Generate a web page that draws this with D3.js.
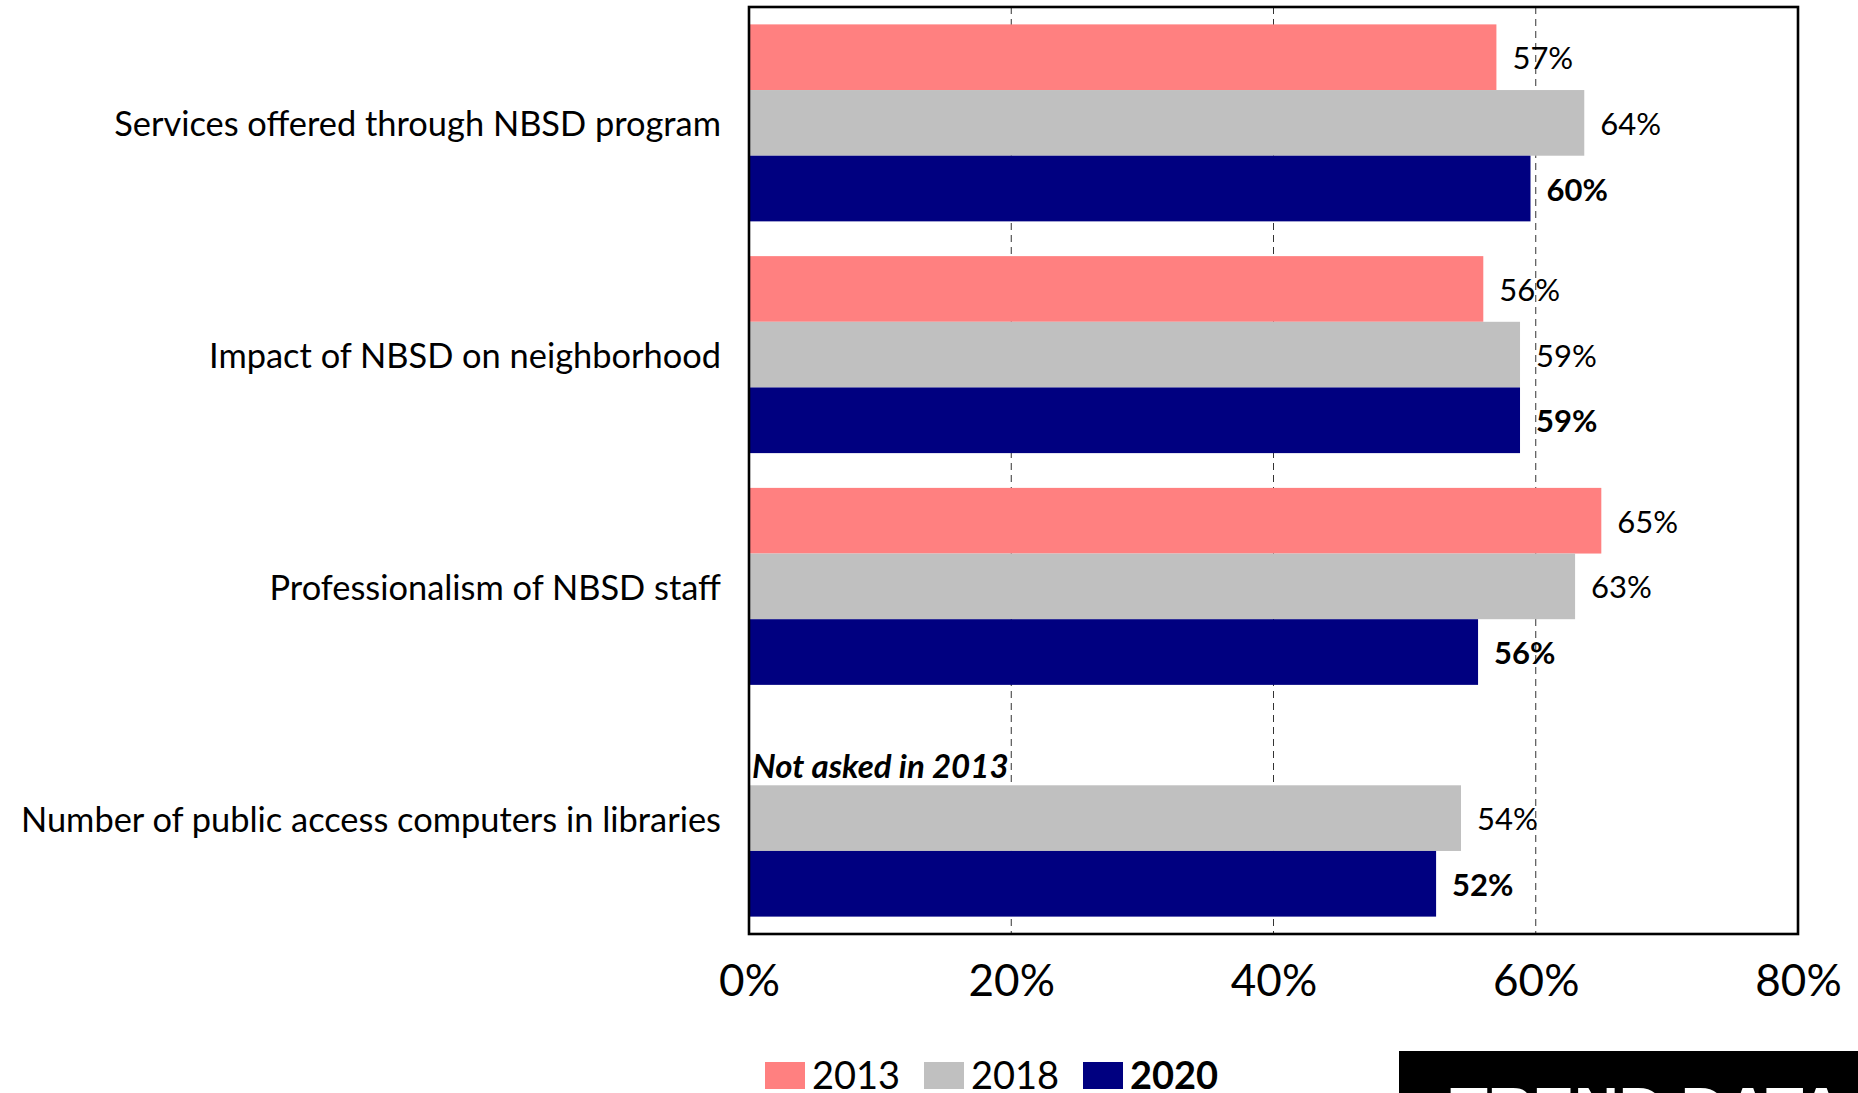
<!DOCTYPE html>
<html>
<head>
<meta charset="utf-8">
<script src="https://cdn.jsdelivr.net/npm/d3@7"></script>
<style>
  body { margin: 0; background: #fff; overflow: hidden; }
  svg { display: block; font-family: Lato, sans-serif; }
</style>
</head>
<body>
<svg></svg>
<script>
const svgWidth = 1858,
  svgHeight = 1093,
  margin = {top: 7, right: 60, bottom: 159, left: 749},
  plotBottom = svgHeight - margin.bottom,
  labelGap = 16,
  categoryFont = 34.4,
  valueFont = 31,
  noteFont = 33,
  tickFont = 44,
  legendFont = 38

// data
const categories = [
  'Services offered through NBSD program',
  'Impact of NBSD on neighborhood',
  'Professionalism of NBSD staff',
  'Number of public access computers in libraries'
]
const years = ['2013', '2018', '2020']
const values2013 = [0.57, 0.56, 0.65, null]
const values2018 = [0.637, 0.588, 0.63, 0.543]
const values2020 = [0.596, 0.588, 0.556, 0.524]
const xTicks = [0, 0.2, 0.4, 0.6, 0.8]
const gridTicks = [0.2, 0.4, 0.6]
const missingNote = 'Not asked in 2013'
const badgeText = 'TREND DATA'

const colors = {'2013': '#ff8080', '2018': '#c0c0c0', '2020': '#000080'}
const seriesByYear = {'2013': values2013, '2018': values2018, '2020': values2020}

const rows = []
categories.forEach((c, i) => {
  years.forEach(yr => {
    const v = seriesByYear[yr][i]
    if (v != null) rows.push({category: c, year: yr, value: v})
  })
})

const x = d3.scaleLinear()
  .domain([0, 0.8])
  .range([margin.left, svgWidth - margin.right])

const y = d3.scaleBand()
  .domain(categories)
  .range([margin.top, plotBottom])
  .paddingInner(0.15)
  .paddingOuter(0.075)

const yInner = d3.scaleBand()
  .domain(years)
  .range([0, y.bandwidth()])

const fmt = d3.format('.0%')

const svg = d3.select('svg')
  .attr('width', svgWidth)
  .attr('height', svgHeight)

// gridlines (behind bars)
svg.append('g')
  .selectAll('line')
  .data(gridTicks)
  .join('line')
  .attr('x1', d => x(d))
  .attr('x2', d => x(d))
  .attr('y1', margin.top)
  .attr('y2', plotBottom)
  .attr('stroke', '#333')
  .attr('stroke-width', 1)
  .attr('stroke-dasharray', '7,5')

// bars
svg.append('g')
  .selectAll('rect')
  .data(rows)
  .join('rect')
  .attr('x', x(0))
  .attr('y', d => y(d.category) + yInner(d.year))
  .attr('width', d => x(d.value) - x(0))
  .attr('height', yInner.bandwidth())
  .attr('fill', d => colors[d.year])

// value labels
svg.append('g')
  .selectAll('text')
  .data(rows)
  .join('text')
  .attr('x', d => x(d.value) + labelGap)
  .attr('y', d => y(d.category) + yInner(d.year) + yInner.bandwidth() / 2)
  .attr('dominant-baseline', 'central')
  .attr('font-size', valueFont)
  .attr('font-weight', d => d.year === '2020' ? 'bold' : 'normal')
  .attr('fill', '#000')
  .text(d => fmt(d.value))

// note where 2013 is missing
const missingIdx = values2013.findIndex(v => v == null)
svg.append('text')
  .attr('x', x(0) + 3)
  .attr('y', y(categories[missingIdx]) + yInner('2013') + yInner.bandwidth() - 7)
  .attr('font-size', noteFont)
  .attr('font-weight', 'bold')
  .attr('font-style', 'italic')
  .text(missingNote)

// category labels
svg.append('g')
  .selectAll('text')
  .data(categories)
  .join('text')
  .attr('x', x(0) - 28)
  .attr('y', d => y(d) + y.bandwidth() / 2)
  .attr('text-anchor', 'end')
  .attr('dominant-baseline', 'central')
  .attr('font-size', categoryFont)
  .text(d => d)

// plot frame
svg.append('rect')
  .attr('x', x(0))
  .attr('y', margin.top)
  .attr('width', x(0.8) - x(0))
  .attr('height', plotBottom - margin.top)
  .attr('fill', 'none')
  .attr('stroke', '#000')
  .attr('stroke-width', 2.6)

// x axis
const xAxis = svg.append('g')
  .attr('transform', `translate(0,${plotBottom})`)
  .call(d3.axisBottom(x).tickValues(xTicks).tickFormat(fmt).tickSize(0).tickPadding(31))
xAxis.select('.domain').remove()
xAxis.selectAll('text')
  .attr('font-size', tickFont)
  .attr('font-family', 'Lato, sans-serif')
  .attr('fill', '#000')

// legend
const legend = svg.append('g')
  .attr('transform', 'translate(765,1062)')
const items = legend.selectAll('g')
  .data(years)
  .join('g')
  .attr('transform', (d, i) => `translate(${i * 159},0)`)
items.append('rect')
  .attr('width', 40)
  .attr('height', 27)
  .attr('fill', d => colors[d])
items.append('text')
  .attr('x', 47)
  .attr('y', 27)
  .attr('font-size', legendFont)
  .attr('font-weight', d => d === '2020' ? 'bold' : 'normal')
  .text(d => d)

// trend data badge, cut by the bottom edge
svg.append('rect')
  .attr('x', 1399)
  .attr('y', 1051)
  .attr('width', svgWidth - 1399)
  .attr('height', 60)
  .attr('fill', '#000')
svg.append('text')
  .attr('x', 1450)
  .attr('y', 1130)
  .attr('font-family', '"Liberation Sans", Arial, sans-serif')
  .attr('font-weight', 'bold')
  .attr('font-size', 62)
  .attr('fill', '#fff')
  .text(badgeText)
</script>
</body>
</html>
